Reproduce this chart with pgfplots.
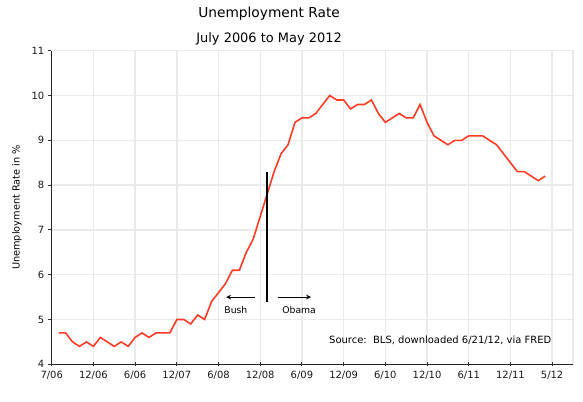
\documentclass[border=0pt]{standalone}
\usepackage{pgfplots}
\pgfplotsset{compat=1.18}
\usepackage{fontspec}
\setmainfont{DejaVu Sans}
\definecolor{ured}{RGB}{255,59,35}
\definecolor{gridgray}{RGB}{234,234,234}
\begin{document}
\begin{tikzpicture}
\begin{axis}[
  name=ax,
  scale only axis,
  width=521.3bp, height=313.6bp,
  xmin=0, xmax=75, ymin=4, ymax=11,
  xtick={0,6,...,72},
  xticklabels={7/06,12/06,6/06,12/07,6/08,12/08,6/09,12/09,6/10,12/10,6/11,12/11,5/12},
  ytick={4,5,...,11},
  xtick pos=bottom, ytick pos=left,
  x tick style={black!80, line width=0.9pt},
  y tick style={black!80, line width=0.9pt},
  xtick align=center, ytick align=outside,
  major tick length=4bp,
  grid=major,
  major grid style={gridgray, line width=1.4pt},
  axis line style={gridgray, line width=1.4pt},
  tick label style={font=\fontsize{10}{12}\selectfont, text=black!90},
  /pgf/number format/assume math mode=true,
  xticklabel style={yshift=-1bp},
  clip=false,
]
\addplot[ured, line width=1.6pt] coordinates {
(1,4.7)(2,4.7)(3,4.5)(4,4.4)(5,4.5)(6,4.4)
(7,4.6)(8,4.5)(9,4.4)(10,4.5)(11,4.4)(12,4.6)(13,4.7)(14,4.6)(15,4.7)(16,4.7)(17,4.7)(18,5.0)
(19,5.0)(20,4.9)(21,5.1)(22,5.0)(23,5.4)(24,5.6)(25,5.8)(26,6.1)(27,6.1)(28,6.5)(29,6.8)(30,7.3)
(31,7.8)(32,8.3)(33,8.7)(34,8.9)(35,9.4)(36,9.5)(37,9.5)(38,9.6)(39,9.8)(40,10.0)(41,9.9)(42,9.9)
(43,9.7)(44,9.8)(45,9.8)(46,9.9)(47,9.6)(48,9.4)(49,9.5)(50,9.6)(51,9.5)(52,9.5)(53,9.8)(54,9.4)
(55,9.1)(56,9.0)(57,8.9)(58,9.0)(59,9.0)(60,9.1)(61,9.1)(62,9.1)(63,9.0)(64,8.9)(65,8.7)(66,8.5)
(67,8.3)(68,8.3)(69,8.2)(70,8.1)(71,8.2)
};
\draw[black!85, line width=1.2pt] (rel axis cs:0,1) -- (rel axis cs:0,0) -- (rel axis cs:1,0);
\draw[black, line width=1.5pt] (axis cs:31,5.4) -- (axis cs:31,8.3);
\draw[black, line width=1.2pt, -stealth] (axis cs:29.25,5.5) -- (axis cs:25.1,5.5);
\draw[black, line width=1.2pt, -stealth] (axis cs:32.6,5.5) -- (axis cs:37.3,5.5);
\node[font=\fontsize{9.3}{11}\selectfont] at (axis cs:26.5,5.21) {Bush};
\node[font=\fontsize{9.3}{11}\selectfont] at (axis cs:35.6,5.21) {Obama};
\node[font=\fontsize{10}{12}\selectfont] at (axis cs:55.9,4.54) {Source:\ \ BLS, downloaded 6/21/12, via FRED};
\node[font=\fontsize{13.8}{16}\selectfont] at ([yshift=36.7bp]rel axis cs:0.417,1) {Unemployment Rate};
\node[font=\fontsize{13}{15}\selectfont] at ([yshift=12bp]rel axis cs:0.417,1) {July 2006 to May 2012};
\node[font=\fontsize{9.8}{11}\selectfont, rotate=90] at ([xshift=-34.7bp]rel axis cs:0,0.5) {Unemployment Rate in \%};
\end{axis}
\pgfresetboundingbox
\useasboundingbox ([xshift=-51.7bp,yshift=-36.7bp]ax.south west) rectangle ([xshift=10bp,yshift=50.7bp]ax.north east);
\end{tikzpicture}
\end{document}
